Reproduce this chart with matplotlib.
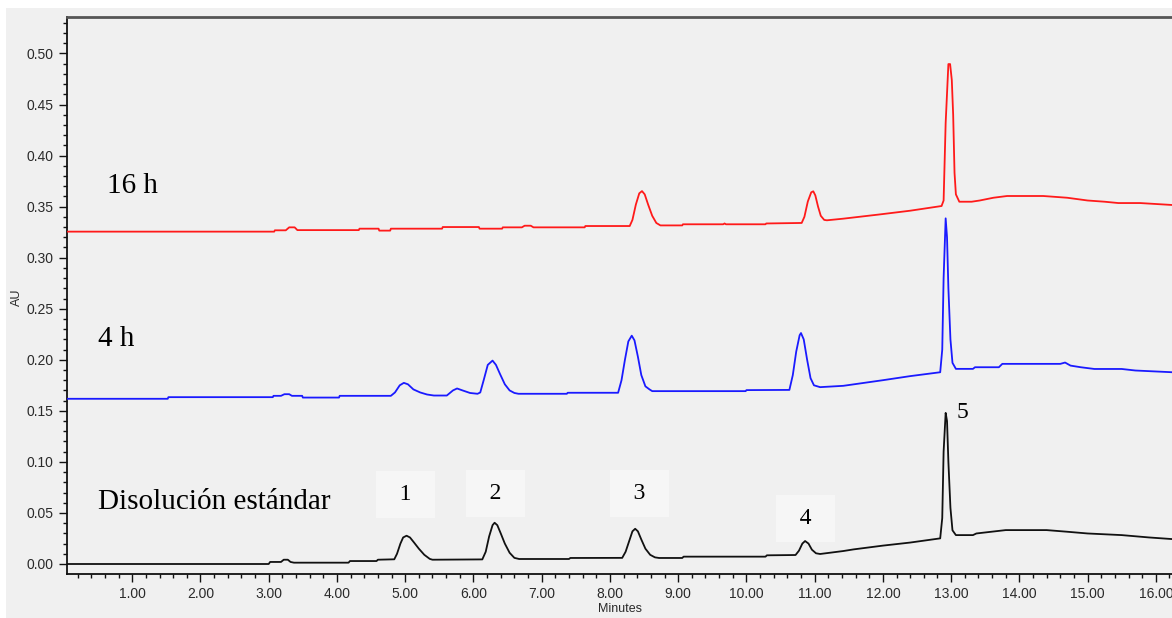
import matplotlib
matplotlib.use("Agg")
import matplotlib.pyplot as plt
from matplotlib.patches import Rectangle
from matplotlib.ticker import MultipleLocator, FormatStrFormatter

# ---- data (time in minutes, absorbance in AU) ----
t_black = [0.04, 3.00, 3.02, 3.18, 3.22, 3.28, 3.32, 3.37, 4.17, 4.19, 4.58, 4.60,
           4.84, 4.88, 4.93, 4.97, 5.02, 5.07, 5.13, 5.20, 5.28, 5.36, 5.40,
           6.13, 6.18, 6.23, 6.28, 6.31, 6.35, 6.40, 6.46, 6.53, 6.60, 6.67,
           7.40, 7.42, 8.18, 8.23, 8.28, 8.33, 8.37, 8.41, 8.46, 8.52, 8.59, 8.66, 8.72,
           9.06, 9.08, 10.28, 10.30, 10.72, 10.77, 10.82, 10.86, 10.91, 10.96, 11.02, 11.08,
           11.42, 11.57, 12.00, 12.40, 12.84, 12.87, 12.89, 12.92, 12.94, 12.96, 12.99, 13.02, 13.07,
           13.32, 13.37, 13.80, 14.40, 14.70, 15.00, 15.50, 15.90, 16.24]
au_black = [0.0, 0.0, 0.002, 0.002, 0.0042, 0.0042, 0.002, 0.0013, 0.0013, 0.0029, 0.0029, 0.0042,
            0.0046, 0.010, 0.020, 0.026, 0.0277, 0.026, 0.021, 0.015, 0.009, 0.005, 0.0042,
            0.0045, 0.012, 0.027, 0.038, 0.0404, 0.038, 0.030, 0.020, 0.011, 0.006, 0.0049,
            0.0049, 0.0059, 0.006, 0.012, 0.022, 0.032, 0.0345, 0.032, 0.024, 0.015, 0.009, 0.0065, 0.0059,
            0.0059, 0.0072, 0.0072, 0.0085, 0.0088, 0.013, 0.020, 0.0225, 0.020, 0.014, 0.0105, 0.0098,
            0.0127, 0.0143, 0.018, 0.021, 0.0251, 0.045, 0.110, 0.148, 0.140, 0.100, 0.055, 0.033, 0.0283,
            0.0283, 0.0299, 0.0332, 0.0332, 0.0316, 0.0299, 0.0283, 0.026, 0.0244]

t_blue = [0.04, 1.52, 1.53, 3.06, 3.07, 3.18, 3.23, 3.30, 3.34, 3.49, 3.50, 4.03, 4.04, 4.79,
          4.85, 4.92, 4.98, 5.04, 5.12, 5.22, 5.32, 5.42, 5.61, 5.70, 5.76, 5.84, 5.95, 6.06,
          6.10, 6.15, 6.21, 6.28, 6.33, 6.39, 6.46, 6.53, 6.60, 6.66, 7.37, 7.38,
          8.12, 8.17, 8.22, 8.27, 8.32, 8.36, 8.41, 8.46, 8.52, 8.58, 8.62, 9.99, 10.00,
          10.63, 10.68, 10.73, 10.78, 10.80, 10.84, 10.89, 10.94, 10.99, 11.08,
          11.42, 12.00, 12.40, 12.84, 12.87, 12.89, 12.92, 12.94, 12.96, 12.99, 13.02, 13.07,
          13.32, 13.35, 13.70, 13.75, 14.60, 14.67, 14.75, 14.90, 15.10, 15.50, 15.70, 16.24]
au_blue = [0.1618, 0.1618, 0.1634, 0.1634, 0.1647, 0.1647, 0.1663, 0.1663, 0.1647, 0.1647, 0.163, 0.163, 0.1647, 0.1647,
           0.168, 0.175, 0.1774, 0.176, 0.171, 0.168, 0.166, 0.165, 0.165, 0.170, 0.1719, 0.170, 0.1675, 0.1667,
           0.168, 0.180, 0.195, 0.1992, 0.195, 0.186, 0.176, 0.170, 0.1675, 0.1667, 0.1667, 0.1677,
           0.1677, 0.180, 0.200, 0.218, 0.2236, 0.219, 0.203, 0.185, 0.174, 0.171, 0.1693, 0.1693, 0.1703,
           0.1705, 0.185, 0.208, 0.224, 0.2262, 0.220, 0.200, 0.182, 0.175, 0.1732,
           0.1745, 0.180, 0.184, 0.1878, 0.210, 0.280, 0.3385, 0.320, 0.270, 0.220, 0.197, 0.1911,
           0.1911, 0.1927, 0.1927, 0.196, 0.196, 0.1973, 0.1943, 0.1927, 0.191, 0.191, 0.1895, 0.1878]

t_red = [0.04, 3.08, 3.09, 3.25, 3.30, 3.38, 3.42, 4.32, 4.33, 4.61, 4.62, 4.78, 4.79,
         5.54, 5.55, 6.08, 6.09, 6.42, 6.43, 6.71, 6.75, 6.84, 6.88, 7.63, 7.64,
         8.29, 8.33, 8.38, 8.43, 8.47, 8.51, 8.56, 8.62, 8.68, 8.74,
         9.06, 9.07, 9.66, 9.68, 9.70, 10.28, 10.29,
         10.81, 10.85, 10.90, 10.95, 10.98, 11.01, 11.05, 11.09, 11.14, 11.18,
         11.42, 11.96, 12.40, 12.86, 12.89, 12.92, 12.96, 12.985, 13.01, 13.03, 13.05, 13.07, 13.12,
         13.30, 13.42, 13.62, 13.82, 14.35, 14.70, 15.00, 15.25, 15.45, 15.77, 16.24]
au_red = [0.3255, 0.3255, 0.3268, 0.3268, 0.3297, 0.3297, 0.327, 0.327, 0.3284, 0.3284, 0.3265, 0.3265, 0.3284,
          0.3284, 0.330, 0.330, 0.3284, 0.3284, 0.3297, 0.3297, 0.3313, 0.3313, 0.3297, 0.3297, 0.331,
          0.331, 0.337, 0.352, 0.363, 0.3652, 0.362, 0.352, 0.341, 0.334, 0.3316,
          0.3316, 0.3327, 0.3327, 0.3335, 0.3327, 0.3327, 0.3335,
          0.334, 0.340, 0.355, 0.364, 0.365, 0.361, 0.350, 0.341, 0.337, 0.3366,
          0.3382, 0.3424, 0.346, 0.3506, 0.356, 0.432, 0.4896, 0.4896, 0.474, 0.440, 0.383, 0.362, 0.3548,
          0.3548, 0.356, 0.3587, 0.3604, 0.3604, 0.3587, 0.356, 0.3548, 0.3535, 0.3535, 0.3516]

trace_labels = ["16 h", "4 h", "Disolución estándar"]
peak_numbers = ["1", "2", "3", "4", "5"]
peak_label_x = [5.00, 6.33, 8.43, 10.87, 13.17]
peak_label_y = [0.0676, 0.0695, 0.0686, 0.0441, 0.148]

x_ticks = [1, 2, 3, 4, 5, 6, 7, 8, 9, 10, 11, 12, 13, 14, 15, 16]

# ---- figure ----
W, H = 1172, 618
fig = plt.figure(figsize=(W / 100, H / 100), dpi=100, facecolor="white")
fig.patches.append(Rectangle((6 / W, 0), 1, 1 - 8 / H, transform=fig.transFigure,
                             facecolor="#f0f0f0", edgecolor="none", zorder=-10))

L, R, T, B = 67, 1172, 16.7, 573.7
ax = fig.add_axes([L / W, (H - B) / H, (R - L) / W, (B - T) / H])
ax.set_facecolor("#f0f0f0")
ax.set_xlim(0.044, 0.044 + (R - L) / 68.24)
ax.set_ylim(-0.0095, 0.536)

ax.plot(t_red, au_red, color="#ff1a1a", lw=1.3, zorder=3)
ax.plot(t_blue, au_blue, color="#1a1aff", lw=1.3, zorder=3)
ax.plot(t_black, au_black, color="#111111", lw=1.3, zorder=3)

serif = ["Liberation Serif", "DejaVu Serif"]
ax.text(0.63, 0.3634, trace_labels[0], fontsize=21, family=serif, ha="left", va="baseline")
ax.text(0.498, 0.2135, trace_labels[1], fontsize=21, family=serif, ha="left", va="baseline")
ax.text(0.498, 0.0539, trace_labels[2], fontsize=21, family=serif, ha="left", va="baseline")

for i, (lab, x, y) in enumerate(zip(peak_numbers, peak_label_x, peak_label_y)):
    if i < 4:
        bbox = dict(boxstyle="square,pad=0.55", facecolor="#f6f6f6", edgecolor="none")
        ax.text(x, y, f"\u2009 {lab} \u2009", fontsize=17, family=serif, ha="center", va="center",
                bbox=bbox, zorder=2)
    else:
        ax.text(x, y, lab, fontsize=17, family=serif, ha="center", va="center", zorder=2)

# ---- axes styling ----
for s in ["left", "bottom"]:
    ax.spines[s].set_color("#111111")
    ax.spines[s].set_linewidth(1.3)
ax.spines["top"].set_color("#555555")
ax.spines["top"].set_linewidth(2)
ax.spines["right"].set_visible(False)

ax.set_xticks(x_ticks)
ax.xaxis.set_minor_locator(MultipleLocator(0.2))
ax.yaxis.set_major_locator(MultipleLocator(0.05))
ax.yaxis.set_minor_locator(MultipleLocator(0.01))
ax.xaxis.set_major_formatter(FormatStrFormatter("%.2f"))
ax.yaxis.set_major_formatter(FormatStrFormatter("%.2f"))
ax.tick_params(which="major", direction="out", length=6, width=1, color="#111111",
               labelsize=10, labelcolor="#2a2a2a")
ax.tick_params(which="minor", direction="out", length=3, width=1, color="#111111")
for lab in ax.get_xticklabels() + ax.get_yticklabels():
    lab.set_family(["Liberation Sans", "DejaVu Sans"])

ax.set_xlabel("Minutes", fontsize=9, family=["Liberation Sans", "DejaVu Sans"], color="#2a2a2a")
ax.set_ylabel("AU", fontsize=9, family=["Liberation Sans", "DejaVu Sans"], color="#2a2a2a")
ax.xaxis.set_label_coords((620 - L) / (R - L), (B - 603) / (B - T))
ax.yaxis.set_label_coords((23 - L) / (R - L), (B - 297) / (B - T))

fig.savefig("out.png", dpi=100, facecolor=fig.get_facecolor())
